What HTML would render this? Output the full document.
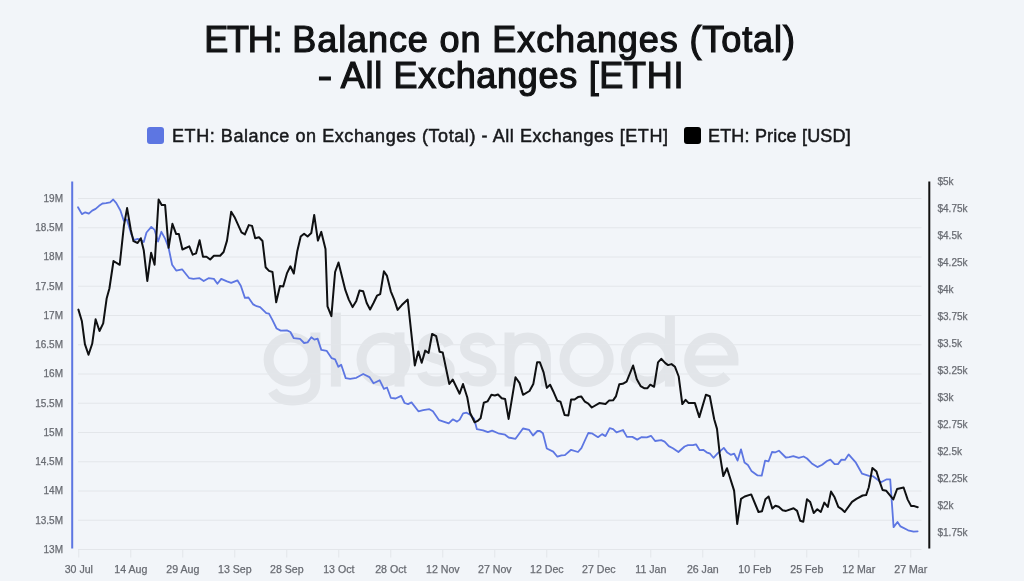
<!DOCTYPE html>
<html><head><meta charset="utf-8"><style>
html,body{margin:0;padding:0;}
body{width:1024px;height:581px;background:#f2f5f9;position:relative;overflow:hidden;font-family:"Liberation Sans",sans-serif;}
.t{position:absolute;left:0;width:1000px;text-align:center;color:#111214;font-size:36px;line-height:36px;white-space:nowrap;letter-spacing:0.7px;-webkit-text-stroke:1.2px #111214;will-change:transform;}
.lg{position:absolute;top:124.5px;height:22px;font-size:18px;line-height:22px;color:#17181b;white-space:nowrap;-webkit-text-stroke:0.5px #17181b;will-change:transform;}
.sq{position:absolute;width:17px;height:17px;border-radius:3px;}
svg{position:absolute;left:0;top:0;will-change:transform;}
</style></head><body>
<div class="t" style="top:21.5px"><span style="letter-spacing:-1.2px">ETH:</span><span style="letter-spacing:0.9px"> Balance on Exchanges (Total)</span></div>
<div class="t" style="top:57.5px"><span style="display:inline-block;transform:scaleX(1.2);margin-left:3px;margin-right:0.5px">-</span> All Exchanges [ETHI</div>
<div class="sq" style="left:147px;top:127px;background:#5d76e2"></div>
<div class="lg" style="left:171.5px;letter-spacing:0.57px">ETH: Balance on Exchanges (Total) - All Exchanges [ETH]</div>
<div class="sq" style="left:683.5px;top:127px;background:#000"></div>
<div class="lg" style="left:707.5px;letter-spacing:0.18px">ETH: Price [USD]</div>
<svg width="1024" height="581" viewBox="0 0 1024 581">
<g fill="none" stroke="#e2e5e9" stroke-width="10"><circle cx="290.7" cy="359.5" r="22.1"/><path d="M315.4 332.4 V383 C315.4 395,306 400.5,293 400.5 C283 400.5,276 397,272.5 391"/><path d="M335.85 312.6 V386.6"/><circle cx="383.6" cy="359.5" r="22.1"/><path d="M399.5 332.4 V386.6"/><path d="M449.0 346.0 C447.0 340.5,442.0 337.4,436.2 337.4 C428.5 337.4,423.2 341.5,423.2 347.5 C423.2 354.5,429.5 356.8,436.2 358.8 C443.5 361.0,449.8 363.5,449.8 370.5 C449.8 377.5,443.5 381.6,436.2 381.6 C428.5 381.6,423.5 378.0,422.0 372.5"/><path d="M490.8 346.0 C488.8 340.5,483.8 337.4,478.0 337.4 C470.3 337.4,465.0 341.5,465.0 347.5 C465.0 354.5,471.3 356.8,478.0 358.8 C485.3 361.0,491.6 363.5,491.6 370.5 C491.6 377.5,485.3 381.6,478.0 381.6 C470.3 381.6,465.3 378.0,463.8 372.5"/><path d="M509.5 332.4 V386.6 M509.5 358 C509.5 345,517 337.4,527.7 337.4 C538.4 337.4,545.9 345,545.9 358 V386.6"/><circle cx="586.6" cy="359.9" r="22.1"/><circle cx="647.8" cy="359.5" r="22.1"/><path d="M669.9 315.7 V386.6"/><path d="M689.3 360.5 H733.5 A22.1 22.1 0 1 0 727.0 375.6"/></g>
<g><line x1="78" y1="198.50" x2="921.5" y2="198.50" stroke="#e3e6ea" stroke-width="1"/><line x1="78" y1="227.75" x2="921.5" y2="227.75" stroke="#e3e6ea" stroke-width="1"/><line x1="78" y1="257.00" x2="921.5" y2="257.00" stroke="#e3e6ea" stroke-width="1"/><line x1="78" y1="286.25" x2="921.5" y2="286.25" stroke="#e3e6ea" stroke-width="1"/><line x1="78" y1="315.50" x2="921.5" y2="315.50" stroke="#e3e6ea" stroke-width="1"/><line x1="78" y1="344.75" x2="921.5" y2="344.75" stroke="#e3e6ea" stroke-width="1"/><line x1="78" y1="374.00" x2="921.5" y2="374.00" stroke="#e3e6ea" stroke-width="1"/><line x1="78" y1="403.25" x2="921.5" y2="403.25" stroke="#e3e6ea" stroke-width="1"/><line x1="78" y1="432.50" x2="921.5" y2="432.50" stroke="#e3e6ea" stroke-width="1"/><line x1="78" y1="461.75" x2="921.5" y2="461.75" stroke="#e3e6ea" stroke-width="1"/><line x1="78" y1="491.00" x2="921.5" y2="491.00" stroke="#e3e6ea" stroke-width="1"/><line x1="78" y1="520.25" x2="921.5" y2="520.25" stroke="#e3e6ea" stroke-width="1"/><line x1="78" y1="549.50" x2="921.5" y2="549.50" stroke="#e3e6ea" stroke-width="1"/><line x1="78.8" y1="549" x2="78.8" y2="557.5" stroke="#e3e6ea" stroke-width="1"/><line x1="130.8" y1="549" x2="130.8" y2="557.5" stroke="#e3e6ea" stroke-width="1"/><line x1="182.8" y1="549" x2="182.8" y2="557.5" stroke="#e3e6ea" stroke-width="1"/><line x1="234.8" y1="549" x2="234.8" y2="557.5" stroke="#e3e6ea" stroke-width="1"/><line x1="286.8" y1="549" x2="286.8" y2="557.5" stroke="#e3e6ea" stroke-width="1"/><line x1="338.8" y1="549" x2="338.8" y2="557.5" stroke="#e3e6ea" stroke-width="1"/><line x1="390.8" y1="549" x2="390.8" y2="557.5" stroke="#e3e6ea" stroke-width="1"/><line x1="442.8" y1="549" x2="442.8" y2="557.5" stroke="#e3e6ea" stroke-width="1"/><line x1="494.8" y1="549" x2="494.8" y2="557.5" stroke="#e3e6ea" stroke-width="1"/><line x1="546.8" y1="549" x2="546.8" y2="557.5" stroke="#e3e6ea" stroke-width="1"/><line x1="598.8" y1="549" x2="598.8" y2="557.5" stroke="#e3e6ea" stroke-width="1"/><line x1="650.8" y1="549" x2="650.8" y2="557.5" stroke="#e3e6ea" stroke-width="1"/><line x1="702.8" y1="549" x2="702.8" y2="557.5" stroke="#e3e6ea" stroke-width="1"/><line x1="754.8" y1="549" x2="754.8" y2="557.5" stroke="#e3e6ea" stroke-width="1"/><line x1="806.8" y1="549" x2="806.8" y2="557.5" stroke="#e3e6ea" stroke-width="1"/><line x1="858.8" y1="549" x2="858.8" y2="557.5" stroke="#e3e6ea" stroke-width="1"/><line x1="910.8" y1="549" x2="910.8" y2="557.5" stroke="#e3e6ea" stroke-width="1"/></g>
<g font-family="Liberation Sans" font-size="10" fill="#686b72" stroke="#686b72" stroke-width="0.25"><text x="63" y="201.9" text-anchor="end">19M</text><text x="63" y="231.2" text-anchor="end">18.5M</text><text x="63" y="260.4" text-anchor="end">18M</text><text x="63" y="289.6" text-anchor="end">17.5M</text><text x="63" y="318.9" text-anchor="end">17M</text><text x="63" y="348.1" text-anchor="end">16.5M</text><text x="63" y="377.4" text-anchor="end">16M</text><text x="63" y="406.6" text-anchor="end">15.5M</text><text x="63" y="435.9" text-anchor="end">15M</text><text x="63" y="465.1" text-anchor="end">14.5M</text><text x="63" y="494.4" text-anchor="end">14M</text><text x="63" y="523.6" text-anchor="end">13.5M</text><text x="63" y="552.9" text-anchor="end">13M</text><text x="937.5" y="185.1">$5k</text><text x="937.5" y="212.1">$4.75k</text><text x="937.5" y="239.1">$4.5k</text><text x="937.5" y="266.1">$4.25k</text><text x="937.5" y="293.1">$4k</text><text x="937.5" y="320.1">$3.75k</text><text x="937.5" y="347.1">$3.5k</text><text x="937.5" y="374.1">$3.25k</text><text x="937.5" y="401.1">$3k</text><text x="937.5" y="428.1">$2.75k</text><text x="937.5" y="455.1">$2.5k</text><text x="937.5" y="482.1">$2.25k</text><text x="937.5" y="509.1">$2k</text><text x="937.5" y="536.1">$1.75k</text><text x="78.8" y="573" text-anchor="middle" font-size="10.6">30 Jul</text><text x="130.8" y="573" text-anchor="middle" font-size="10.6">14 Aug</text><text x="182.8" y="573" text-anchor="middle" font-size="10.6">29 Aug</text><text x="234.8" y="573" text-anchor="middle" font-size="10.6">13 Sep</text><text x="286.8" y="573" text-anchor="middle" font-size="10.6">28 Sep</text><text x="338.8" y="573" text-anchor="middle" font-size="10.6">13 Oct</text><text x="390.8" y="573" text-anchor="middle" font-size="10.6">28 Oct</text><text x="442.8" y="573" text-anchor="middle" font-size="10.6">12 Nov</text><text x="494.8" y="573" text-anchor="middle" font-size="10.6">27 Nov</text><text x="546.8" y="573" text-anchor="middle" font-size="10.6">12 Dec</text><text x="598.8" y="573" text-anchor="middle" font-size="10.6">27 Dec</text><text x="650.8" y="573" text-anchor="middle" font-size="10.6">11 Jan</text><text x="702.8" y="573" text-anchor="middle" font-size="10.6">26 Jan</text><text x="754.8" y="573" text-anchor="middle" font-size="10.6">10 Feb</text><text x="806.8" y="573" text-anchor="middle" font-size="10.6">25 Feb</text><text x="858.8" y="573" text-anchor="middle" font-size="10.6">12 Mar</text><text x="910.8" y="573" text-anchor="middle" font-size="10.6">27 Mar</text></g>
<line x1="72.2" y1="181.5" x2="72.2" y2="548.5" stroke="#5d76e2" stroke-width="2"/>
<line x1="929.3" y1="181.5" x2="929.3" y2="548.5" stroke="#111" stroke-width="2"/>
<polyline points="78.0,207.2 81.9,214.1 85.3,212.3 88.8,213.7 92.2,210.6 95.6,208.9 99.1,205.8 102.5,203.5 106.0,203.1 110.1,202.3 113.2,199.5 116.3,203.1 120.4,210.5 123.8,220.8 126.9,219.5 130.0,229.8 131.4,234.7 134.2,240.2 137.6,238.9 140.4,239.6 143.8,242.0 146.5,232.5 151.3,226.9 154.6,229.9 158.0,241.6 161.4,231.8 165.2,238.9 168.6,247.8 172.1,264.7 176.2,270.6 182.1,269.3 189.3,278.2 193.4,278.9 199.6,278.2 203.7,281.0 208.5,278.2 213.9,278.9 217.4,283.7 221.2,278.9 227.0,281.4 231.2,282.8 237.4,280.3 240.8,285.8 244.9,297.9 248.4,297.5 253.2,304.4 256.6,306.2 260.1,307.1 266.3,313.1 269.0,313.6 272.5,320.2 276.6,328.5 280.7,330.6 286.9,330.4 290.4,332.0 293.8,338.2 300.0,338.9 304.1,343.0 307.6,342.4 311.3,337.3 314.4,339.6 317.6,338.6 321.3,349.9 326.8,350.9 331.7,358.2 335.1,359.3 338.4,366.8 341.2,364.7 345.7,378.1 350.1,378.9 356.3,377.8 363.2,374.0 369.4,377.1 373.5,383.3 379.7,380.3 383.9,388.8 387.0,387.5 390.8,397.8 395.6,398.5 401.2,395.9 404.6,403.0 408.1,404.1 411.5,402.4 418.4,411.3 423.2,410.2 429.4,409.2 432.9,411.3 439.1,420.2 448.7,423.4 452.8,419.3 457.0,421.6 459.7,419.6 463.1,413.4 466.6,412.7 470.0,414.7 474.2,418.9 476.9,429.2 483.1,430.3 487.9,432.2 492.1,430.6 498.2,433.3 505.1,434.7 508.6,437.5 515.5,438.8 523.0,428.5 529.2,429.9 533.0,435.5 537.4,431.0 539.9,431.0 542.9,433.3 546.8,448.5 553.2,451.6 557.4,456.7 561.5,455.3 564.9,455.1 571.1,449.8 578.0,452.0 581.4,448.2 588.3,433.0 591.8,433.3 598.0,437.2 602.1,434.1 605.5,436.1 609.7,428.2 613.1,429.2 616.5,432.4 623.0,430.0 626.9,436.9 632.4,436.9 637.2,439.6 641.3,437.2 646.8,437.4 651.0,435.8 655.1,441.0 661.2,440.2 664.6,441.6 668.8,446.1 672.9,448.2 678.4,452.0 684.6,446.5 688.0,445.2 692.9,445.2 696.0,444.3 699.7,450.2 703.2,449.8 706.6,452.3 710.1,453.7 713.5,457.8 717.6,453.4 723.8,447.9 727.3,452.6 730.7,454.8 734.2,453.7 737.6,460.6 741.0,449.3 744.5,462.6 747.9,465.0 751.4,470.9 757.6,475.4 761.7,475.7 765.1,460.6 768.6,461.3 772.0,452.0 775.5,452.3 778.9,450.7 785.8,457.5 789.2,457.1 793.3,456.1 798.8,457.9 803.6,456.5 807.0,458.5 811.8,463.4 817.4,467.1 822.2,464.7 827.0,461.0 830.4,459.6 834.6,464.1 838.0,464.1 841.4,459.6 844.9,459.9 848.6,454.4 855.9,462.7 862.1,473.7 869.0,475.8 873.0,476.2 881.0,482.3 886.8,479.3 890.2,479.4 893.6,527.1 897.5,522.0 900.5,526.4 908.1,530.3 913.6,531.7 917.7,531.3" fill="none" stroke="#5d76e2" stroke-width="1.8" stroke-linejoin="round" stroke-linecap="round"/>
<polyline points="78.4,309.6 81.9,321.3 84.9,344.1 88.5,354.8 92.2,343.8 95.6,319.3 99.5,331.0 103.2,323.4 106.7,298.2 109.4,288.5 113.5,261.0 119.7,264.8 123.9,225.8 127.1,208.1 130.8,229.9 133.5,241.2 137.6,243.0 140.8,238.2 143.8,250.6 147.3,281.0 151.1,252.8 154.6,264.8 158.6,199.5 161.7,204.9 165.1,204.9 168.6,247.8 172.4,223.8 176.2,234.1 178.9,234.1 182.4,249.5 189.3,246.4 192.7,254.7 196.1,253.3 199.6,240.2 203.0,256.8 206.5,256.8 210.2,259.5 213.9,255.8 220.1,255.8 223.6,252.0 227.0,240.6 231.2,211.7 234.6,217.2 241.5,232.4 244.9,234.4 248.8,225.1 252.1,225.9 255.2,238.3 259.0,237.2 262.5,241.0 265.6,267.2 269.0,270.9 272.5,272.0 276.2,302.3 280.0,286.1 283.2,286.5 286.9,273.4 290.4,266.3 293.8,273.5 297.2,251.6 300.7,236.5 304.1,233.7 307.6,236.5 311.3,233.0 314.2,214.9 317.9,240.6 321.3,231.9 325.5,248.9 327.5,306.4 331.4,316.1 335.1,272.0 338.5,262.5 345.3,289.9 348.8,299.6 352.6,307.1 356.3,300.9 359.5,290.6 363.2,291.3 366.7,303.0 370.1,309.5 373.5,303.0 377.0,295.7 380.2,294.1 383.9,271.3 387.0,275.9 390.8,291.3 394.2,299.6 397.6,309.9 401.8,305.1 407.7,299.6 414.8,365.4 418.3,351.4 421.7,362.7 425.2,350.6 428.6,353.0 432.1,334.0 436.2,336.2 439.6,351.7 442.7,352.4 449.3,384.0 452.7,379.5 459.6,393.7 463.0,384.0 467.3,397.5 470.0,412.7 474.6,422.3 477.6,420.9 480.6,418.2 483.8,402.8 487.5,401.4 491.4,394.8 494.8,395.5 498.0,394.5 501.7,398.2 505.1,398.9 508.6,418.9 515.5,377.2 519.6,383.1 523.0,394.8 529.5,391.0 533.3,384.1 537.1,362.3 539.9,362.3 543.6,372.4 546.8,387.9 550.1,384.7 553.2,391.2 557.4,400.8 560.5,401.7 564.6,415.0 568.4,415.4 571.1,399.5 574.6,399.5 578.0,397.1 581.2,396.4 584.9,401.7 588.3,403.6 591.8,407.5 599.3,403.1 605.5,404.0 609.0,400.6 613.1,400.3 615.9,396.4 619.3,384.3 622.7,383.8 626.6,381.6 633.1,365.5 636.8,379.2 640.6,386.1 644.1,388.2 647.5,388.2 650.3,384.7 654.1,386.8 658.0,362.3 661.2,358.8 665.3,363.1 668.1,365.1 671.5,364.1 675.0,366.8 678.7,376.5 682.3,404.0 685.6,399.9 688.7,403.1 694.9,403.1 699.3,417.1 705.9,394.8 709.8,396.2 714.2,419.3 717.0,428.9 719.7,453.7 723.3,476.0 727.0,468.2 734.1,490.6 737.2,524.0 741.0,498.8 744.7,496.5 751.2,494.4 758.5,512.0 762.0,511.2 765.4,499.2 768.6,496.5 772.3,508.5 775.4,505.7 778.7,506.8 782.6,510.2 786.0,510.9 793.6,508.2 797.1,510.9 800.2,520.8 803.3,521.7 807.0,499.2 810.2,502.0 813.7,513.0 817.3,509.3 820.8,512.0 824.3,502.6 827.8,507.0 831.0,491.6 834.6,497.3 838.3,506.9 841.3,508.8 844.7,512.0 852.0,501.9 856.4,498.9 862.6,495.5 866.1,495.1 868.8,487.2 872.4,467.9 876.5,471.6 879.2,480.3 882.6,490.0 886.3,490.8 893.3,499.4 897.1,489.0 903.6,487.5 907.7,499.6 911.2,506.1 914.3,506.1 917.7,507.2" fill="none" stroke="#0f1012" stroke-width="2.0" stroke-linejoin="round" stroke-linecap="round"/>
</svg>
</body></html>
